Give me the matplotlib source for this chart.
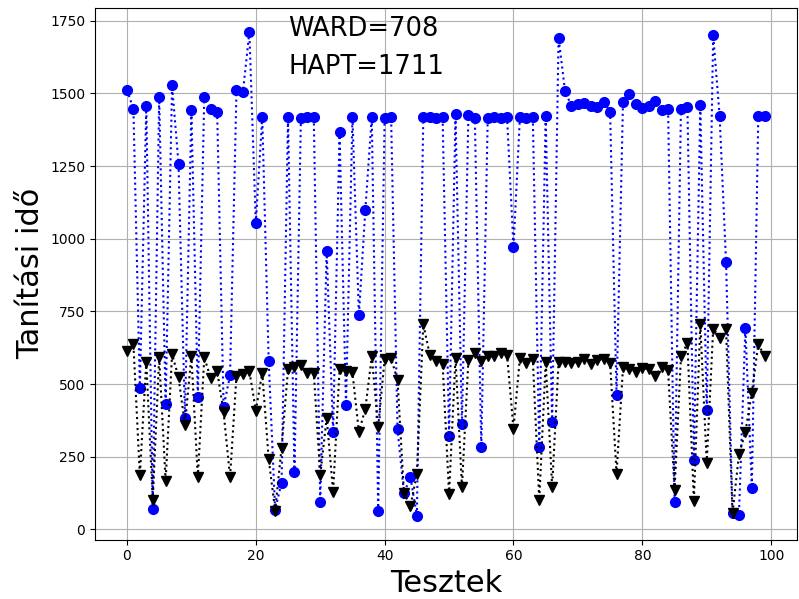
import matplotlib
matplotlib.use('Agg')
import matplotlib.pyplot as plt

# HAPT tanítási idő (kék körök)
hapt = [1512, 1446, 486, 1456, 71, 1489, 430, 1528, 1258, 384,
        1444, 456, 1489, 1447, 1437, 421, 530, 1512, 1504, 1711,
        1053, 1419, 579, 68, 161, 1419, 196, 1415, 1419, 1419,
        95, 958, 335, 1366, 427, 1419, 737, 1099, 1419, 64,
        1416, 1419, 344, 125, 180, 48, 1419, 1419, 1415, 1419,
        322, 1428, 362, 1425, 1415, 283, 1415, 1419, 1415, 1419,
        970, 1419, 1415, 1419, 283, 1422, 369, 1691, 1508, 1456,
        1462, 1468, 1456, 1452, 1471, 1437, 462, 1471, 1497, 1462,
        1450, 1458, 1475, 1444, 1447, 95, 1447, 1452, 239, 1460,
        411, 1700, 1422, 919, 58, 50, 694, 142, 1422, 1422]

# WARD tanítási idő (fekete háromszögek)
ward = [613, 638, 186, 576, 102, 592, 167, 603, 524, 359,
        597, 180, 592, 520, 545, 403, 180, 529, 533, 545,
        409, 539, 242, 65, 281, 551, 560, 564, 539, 539,
        186, 384, 130, 551, 545, 541, 335, 415, 595, 353,
        586, 589, 514, 125, 80, 190, 706, 601, 579, 570,
        121, 591, 146, 582, 607, 579, 595, 595, 607, 601,
        347, 591, 574, 586, 102, 576, 146, 576, 576, 574,
        576, 586, 570, 582, 586, 574, 192, 558, 551, 543,
        555, 551, 529, 558, 548, 136, 595, 642, 99, 708,
        229, 691, 660, 690, 55, 258, 335, 471, 638, 595]

fig, ax = plt.subplots(figsize=(7.99, 5.99), dpi=100)
fig.subplots_adjust(left=0.119, right=0.997, top=0.987, bottom=0.099)

ax.plot(range(len(hapt)), hapt, 'bo:', markersize=7)
ax.plot(range(len(ward)), ward, 'kv:', markersize=7)

ax.text(25, 1698, 'WARD=708', fontsize=18.5)
ax.text(25, 1565, 'HAPT=1711', fontsize=18.5)

ax.set_xlabel('Tesztek', fontsize=22)
ax.set_ylabel('Tanítási idő', fontsize=22)
ax.set_yticks(range(0, 1751, 250))
ax.grid(True)

plt.savefig('out.png', dpi=100)
